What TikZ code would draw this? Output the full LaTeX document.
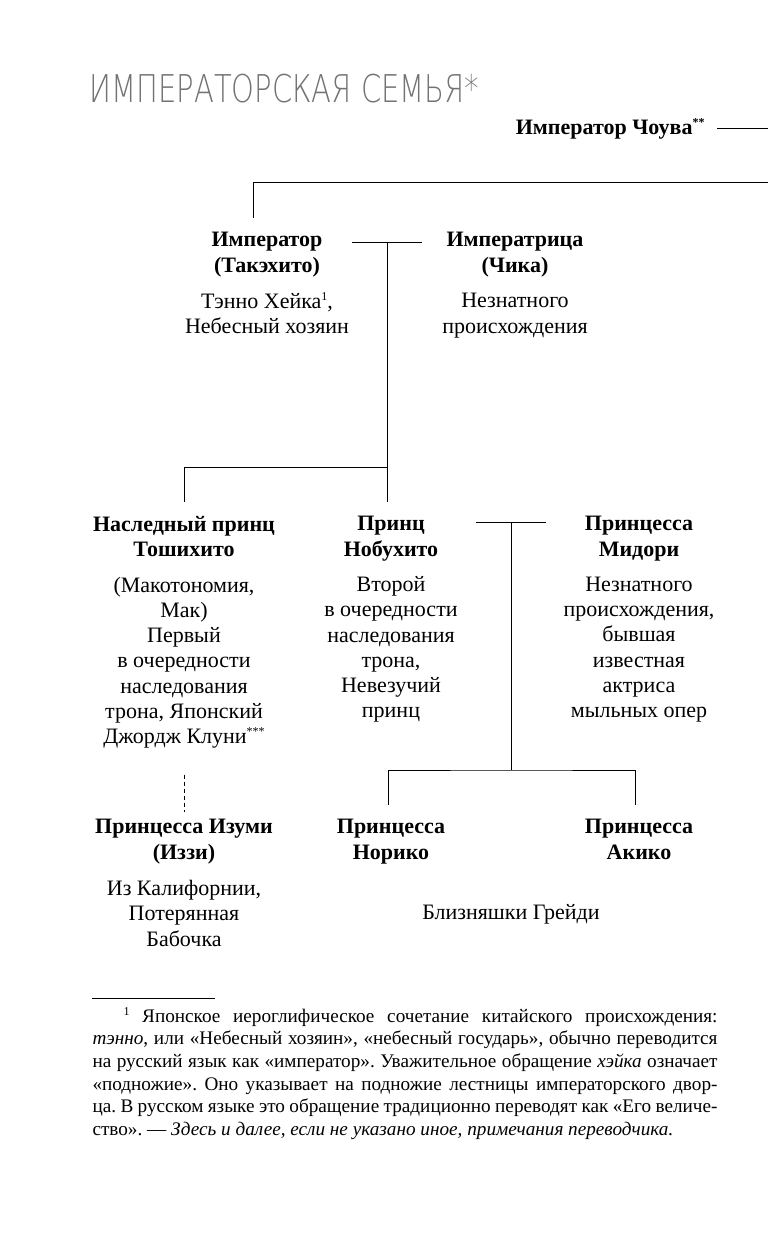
\documentclass[tikz,border=0pt]{standalone}
\usepackage{fontspec}
\setmainfont{Liberation Serif}
\newfontfamily\titlefont{DejaVu Sans}[UprightFont={* ExtraLight}]
\usetikzlibrary{positioning}
\newcommand{\fnmark}[1]{\raisebox{0.8ex}{\fontsize{6}{6}\selectfont #1}}

\begin{document}
\begin{tikzpicture}
  [
    x=0.5pt, y=-0.5pt,
    line width=0.5pt,
    member/.style={
      align=center,
      inner sep=0pt,
      outer xsep=0pt, outer ysep=7.2pt,
      execute at begin node=\strut,
      execute at end node=\strut,
      font=\fontsize{11}{12.6}\selectfont\bfseries
    },
    about/.style={
      align=center,
      inner sep=0pt,
      execute at begin node=\strut,
      execute at end node=\strut,
      font=\fontsize{11}{12.6}\selectfont
    },
    kin/.style={draw, line width=0.5pt},
    maybe/.style={kin, dash pattern=on 2pt off 1.5pt},
    note/.style={
      text width=312.5pt,
      align=justify,
      inner sep=0pt,
      font=\fontsize{9.6}{11.3}\selectfont
    },
  ]
  \path[fill=white] (0,0) rectangle (768,1241);
  \useasboundingbox (0,0) rectangle (768,1241);

  \node[anchor=base west, inner sep=0pt, text=black!55,
        font=\titlefont\fontsize{20}{20}\selectfont] (title) at (89,103)
        {\resizebox{195pt}{14.2pt}{ИМПЕРАТОРСКАЯ СЕМЬЯ*}};
  \node[anchor=east, inner sep=0pt,
        font=\fontsize{11}{12.6}\selectfont\bfseries] (chouva) at (705,129)
        {Император Чоува\fnmark{**}};

  % first generation
  \node[member] (takehito) at (267,256) {Император\\(Такэхито)};
  \node[about]  (takehito-about) at (267,317) {Тэнно Хейка\fnmark{1},\\Небесный хозяин};
  \node[member] (chika) at (515,256) {Императрица\\(Чика)};
  \node[about]  (chika-about) at (515,317) {Незнатного\\происхождения};

  % second generation
  \node[member] (toshihito) at (184,540) {Наследный принц\\Тошихито};
  \node[about]  (toshihito-about) at (184,664)
      {(Макотономия,\\Мак)\\Первый\\в очередности\\наследования\\трона, Японский\\Джордж Клуни\fnmark{***}};
  \node[member] (nobuhito) at (391,540) {Принц\\Нобухито};
  \node[about]  (nobuhito-about) at (391,651)
      {Второй\\в очередности\\наследования\\трона,\\Невезучий\\принц};
  \node[member] (midori) at (639,540) {Принцесса\\Мидори};
  \node[about]  (midori-about) at (639,651)
      {Незнатного\\происхождения,\\бывшая\\известная\\актриса\\мыльных опер};

  % third generation
  \node[member] (izumi) at (184,843) {Принцесса Изуми\\(Иззи)};
  \node[about]  (izumi-about) at (184,917) {Из Калифорнии,\\Потерянная\\Бабочка};
  \node[member] (noriko) at (391,843) {Принцесса\\Норико};
  \node[member] (akiko) at (639,843) {Принцесса\\Акико};
  \node[about]  (twins) at (511,914) {Близняшки Грейди};

  \coordinate (edge1) at (768,129);
  \coordinate (edge2) at (768,183);
  \coordinate (wed1)  at (387,243);
  \coordinate (kids1) at (387,467);
  \coordinate (wed2)  at (511,522);
  \coordinate (kids2) at (511,770);

  \draw[kin] ([xshift=6pt]chouva.east) -- (edge1);
  \draw[kin] (edge2) -| ([xshift=-7pt]takehito.north);
  \draw[kin] ([xshift=-17.5pt]wed1) -- ([xshift=17.5pt]wed1);
  \draw[kin] (wed1) -- (wed1 |- nobuhito.north);
  \draw[kin] (kids1) -| (toshihito.north);
  \draw[kin] ([xshift=-17.5pt]wed2) -- ([xshift=17.5pt]wed2);
  \draw[kin] (wed2) -- (kids2);
  \draw[kin] ([xshift=-1.5pt]noriko.north) |- (kids2) -| ([xshift=-2pt]akiko.north);
  \draw[maybe] (toshihito-about.south) ++(0,23) -- ([yshift=-3.5pt]izumi.north);

  % footnote
  \draw[kin] (92,998) -- (215,998);
  \node[note, anchor=north west] (footnote) at (92,1006)
    {\strut\frenchspacing\hyphenpenalty=10000\relax
     \hspace*{15.5pt}\fnmark{1}~Японское иероглифическое сочетание китайского происхождения:\linebreak
     \textit{тэнно}, или «Небесный хозяин», «небесный государь», обычно переводится\linebreak
     на русский язык как «император». Уважительное обращение \textit{хэйка} означает\linebreak
     «подножие». Оно указывает на подножие лестницы императорского двор-\linebreak
     ца. В русском языке это обращение традиционно переводят как «Его величе-\linebreak
     ство». — \textit{Здесь и далее, если не указано иное, примечания переводчика.}};
\end{tikzpicture}
\end{document}
